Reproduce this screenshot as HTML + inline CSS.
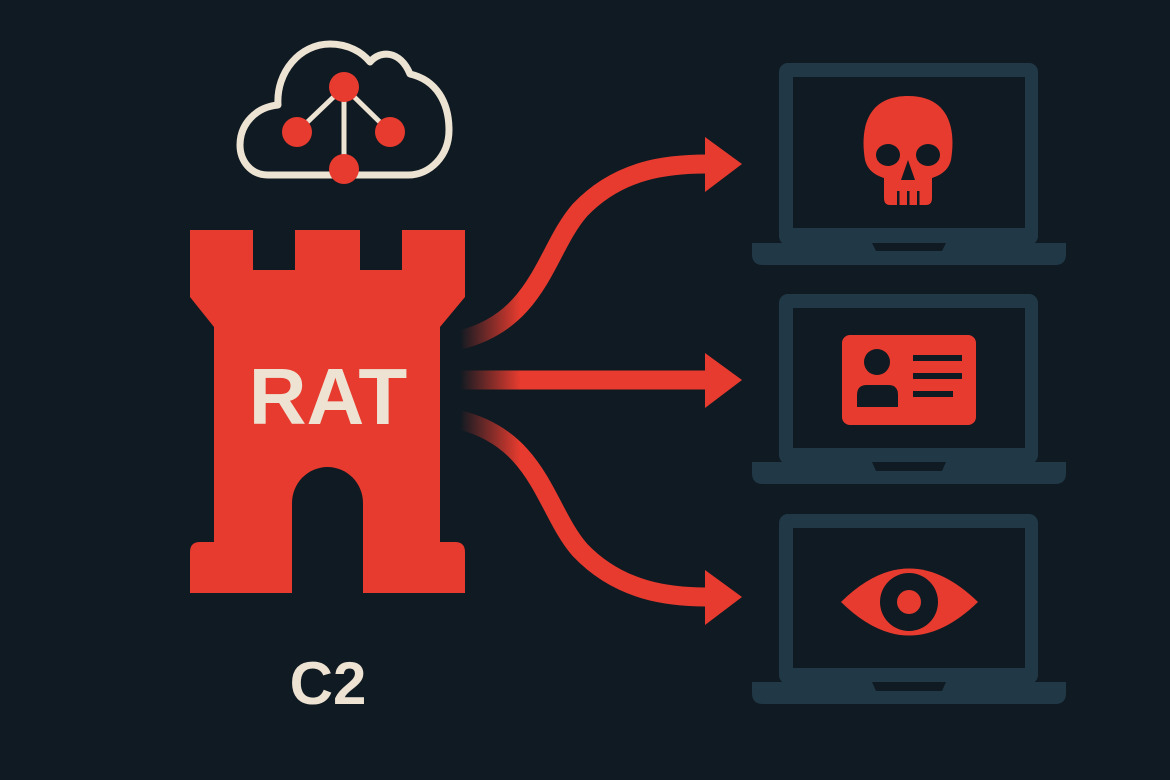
<!DOCTYPE html>
<html><head><style>
html,body{margin:0;padding:0;background:#101a22;}
svg{display:block}
</style></head><body>
<svg width="1170" height="780" viewBox="0 0 1170 780" xmlns="http://www.w3.org/2000/svg">
<defs>
<linearGradient id="fade" x1="460" y1="0" x2="520" y2="0" gradientUnits="userSpaceOnUse">
<stop offset="0" stop-color="#e63b2e" stop-opacity="0"/>
<stop offset="1" stop-color="#e63b2e" stop-opacity="1"/>
</linearGradient>
</defs>
<rect width="1170" height="780" fill="#101a22"/>
<!-- cloud -->
<path d="M268,175 C250,175 240,160 240,145 C240,124 256,107 278,105 C276,72 300,44 330,44 C348,44 362,52 370,62 C380,50 400,50 410,74 C436,80 449,102 449,130 C449,156 430,175 408,175 Z" fill="none" stroke="#ece3d3" stroke-width="7" stroke-linejoin="round"/>
<g stroke="#ece3d3" stroke-width="5">
<line x1="344" y1="87" x2="297" y2="132"/><line x1="344" y1="87" x2="390" y2="132"/><line x1="344" y1="87" x2="344" y2="168"/>
</g>
<g fill="#e63b2e">
<circle cx="344" cy="87" r="15"/><circle cx="297" cy="132" r="15"/><circle cx="390" cy="132" r="15"/><circle cx="344" cy="169" r="15"/>
</g>
<!-- tower -->
<path d="M190,230 H253 V270 H295 V230 H360 V270 H402 V230 H465 V297 L440,327 V542 L455,542 Q465,542 465,552 V593 H190 V552 Q190,542 200,542 L214,542 V327 L190,297 Z M292,593 V503 A35.5,36 0 0 1 363,503 V593 Z" fill="#e63b2e" fill-rule="evenodd"/>
<text x="328" y="424" text-anchor="middle" font-family="Liberation Sans, sans-serif" font-weight="bold" font-size="80" fill="#eee3d3">RAT</text>
<text x="328" y="704" text-anchor="middle" font-family="Liberation Sans, sans-serif" font-weight="bold" font-size="60" fill="#eee3d3">C2</text>
<!-- arrows -->
<g fill="none" stroke="url(#fade)" stroke-width="19">
<path d="M460,340 C540,320 545,250 580,210 C620,168 670,164 707,164"/>
<path d="M460,380 H707"/>
<path d="M460,420 C540,440 545,510 580,550 C620,592 670,597 707,597"/>
</g>
<g fill="#e63b2e">
<polygon points="705,137 742,164 705,192"/>
<polygon points="705,353 742,380 705,408"/>
<polygon points="705,570 742,597 705,625"/>
</g>
<!-- laptops -->
<g fill="#213947">
<rect x="779" y="63" width="259" height="182" rx="9"/>
<path d="M752,243 H1066 V254 Q1066,265 1055,265 H763 Q752,265 752,254 Z"/>
<rect x="779" y="294" width="259" height="170" rx="9"/>
<path d="M752,462 H1066 V473 Q1066,484 1055,484 H763 Q752,484 752,473 Z"/>
<rect x="779" y="514" width="259" height="170" rx="9"/>
<path d="M752,682 H1066 V693 Q1066,704 1055,704 H763 Q752,704 752,693 Z"/>
</g>
<g fill="#0f1a22">
<rect x="793" y="77" width="232" height="151"/>
<rect x="793" y="308" width="232" height="140"/>
<rect x="793" y="528" width="232" height="140"/>
<path d="M872,243 H946 L942,251 H876 Z"/>
<path d="M872,462 H946 L942,471 H876 Z"/>
<path d="M872,682 H946 L942,691 H876 Z"/>
</g>
<!-- skull -->
<path d="M908,96 C866,96 860,130 865,160 C868,172 878,176 884,178 V198 Q884,205 890,205 H926 Q932,205 932,198 V178 C938,176 948,172 951,160 C956,130 950,96 908,96 Z" fill="#e63b2e"/>
<g fill="#0f1a22">
<ellipse cx="888" cy="155" rx="12" ry="11"/><ellipse cx="928" cy="155" rx="12" ry="11"/>
<path d="M908,160 L901,180 H915 Z"/>
<rect x="897" y="191" width="2.5" height="14"/><rect x="907" y="191" width="2.5" height="14"/><rect x="917" y="191" width="2.5" height="14"/>
</g>
<!-- id card -->
<rect x="842" y="335" width="134" height="90" rx="8" fill="#e63b2e"/>
<g fill="#0f1a22">
<circle cx="877" cy="362" r="13"/>
<path d="M857,407 V395 Q857,385 867,385 H888 Q898,385 898,395 V407 Z"/>
<rect x="913" y="355" width="49" height="6"/><rect x="913" y="373" width="49" height="6"/><rect x="913" y="391" width="40" height="6"/>
</g>
<!-- eye -->
<path d="M841,602 Q909,535 978,602 Q909,669 841,602 Z" fill="#e63b2e"/>
<circle cx="909" cy="602" r="29" fill="#0f1a22"/>
<circle cx="909" cy="602" r="12" fill="#e63b2e"/>
</svg>
</body></html>
